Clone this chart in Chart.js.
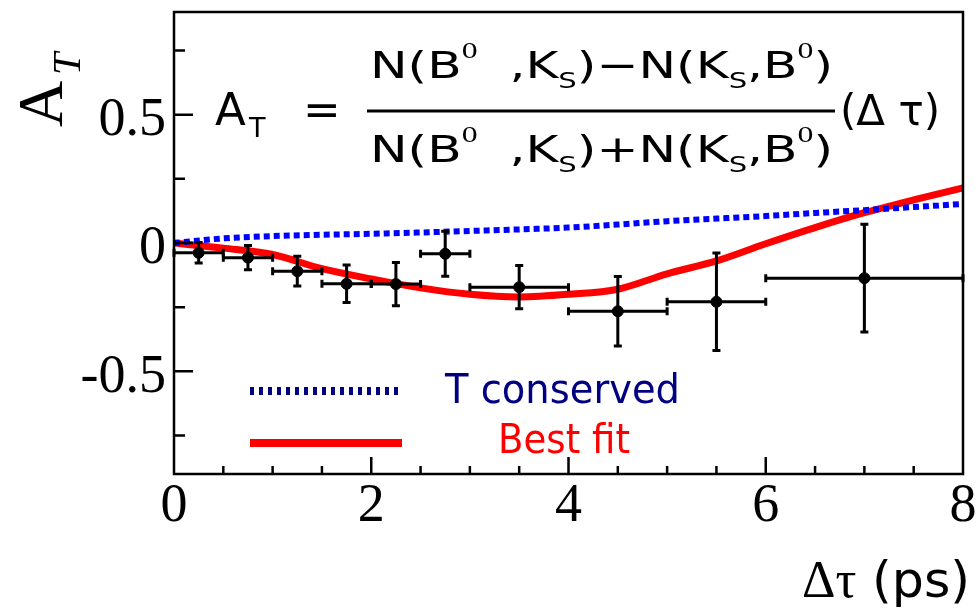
<!DOCTYPE html>
<html>
<head>
<meta charset="utf-8">
<script src="https://cdn.jsdelivr.net/npm/chart.js@4"></script>
<style>html,body{margin:0;padding:0;background:#fff;} canvas{display:block;}</style>
</head>
<body>
<canvas id="atChart" width="979" height="614"></canvas>
<script>
// curves, sampled every 0.5 ps
const fitTimes  = [0, 0.5, 1, 1.5, 2, 2.5, 3, 3.5, 4, 4.5, 5, 5.5, 6, 6.5, 7, 7.5, 8];
const bestFit   = [0, -0.02, -0.045, -0.1, -0.14, -0.175, -0.2, -0.21, -0.2, -0.18, -0.12, -0.07, -0.003, 0.06, 0.118, 0.168, 0.215];
const conserved = [0, 0.018, 0.027, 0.032, 0.036, 0.041, 0.047, 0.053, 0.06, 0.072, 0.085, 0.095, 0.105, 0.117, 0.128, 0.14, 0.152];

// measured asymmetry per bin
const binCenters = [0.25, 0.75, 1.25, 1.75, 2.25, 2.75, 3.5, 4.5, 5.5, 7];
const binLow     = [0, 0.5, 1, 1.5, 2, 2.5, 3, 4, 5, 6];
const binHigh    = [0.5, 1, 1.5, 2, 2.5, 3, 4, 5, 6, 8];
const asym       = [-0.038, -0.057, -0.11, -0.159, -0.16, -0.042, -0.172, -0.266, -0.229, -0.137];
const asymErr    = [0.04, 0.047, 0.058, 0.073, 0.084, 0.088, 0.084, 0.135, 0.19, 0.21];

const xTicks = [0, 2, 4, 6, 8];
const yTicks = [-0.5, 0, 0.5];

const hand = '"DejaVu Sans", sans-serif';
const serif = '"Liberation Serif", serif';

function drawRuns(c, runs, x, y, targetW){
    let w = 0;
    runs.forEach(r=>{ c.font = r.f; w += c.measureText(r.t).width; });
    c.save();
    c.translate(x, y);
    c.scale(targetW / w, 1);
    let cx = 0;
    runs.forEach(r=>{ c.font = r.f; c.fillText(r.t, cx, r.dy || 0); cx += c.measureText(r.t).width; });
    c.restore();
}

function fracRuns(op){
    const m = '38px ' + hand, sup = '24px ' + serif, sub = '22px ' + hand;
    return [
        {t:'N(B', f:m}, {t:'0', f:sup, dy:-20}, {t:'  ,K', f:m}, {t:'S', f:sub, dy:10},
        {t:')' + op + 'N(K', f:m}, {t:'S', f:sub, dy:10}, {t:',B', f:m}, {t:'0', f:sup, dy:-20}, {t:')', f:m}
    ];
}

const framePlugin = {
    id: 'frame',
    afterDatasetsDraw(chart){
        const c = chart.ctx, xs = chart.scales.x, ys = chart.scales.y;
        c.save();
        c.strokeStyle = '#000';
        c.lineWidth = 3;
        binCenters.forEach((bx, i)=>{
            const px = xs.getPixelForValue(bx), py = ys.getPixelForValue(asym[i]);
            const x1 = xs.getPixelForValue(binLow[i]), x2 = xs.getPixelForValue(binHigh[i]);
            const y1 = ys.getPixelForValue(asym[i] + asymErr[i]), y2 = ys.getPixelForValue(asym[i] - asymErr[i]);
            c.beginPath();
            c.moveTo(x1, py); c.lineTo(x2, py);
            c.moveTo(px, y1); c.lineTo(px, y2);
            c.moveTo(x1, py - 4); c.lineTo(x1, py + 4);
            c.moveTo(x2, py - 4); c.lineTo(x2, py + 4);
            c.moveTo(px - 4, y1); c.lineTo(px + 4, y1);
            c.moveTo(px - 4, y2); c.lineTo(px + 4, y2);
            c.stroke();
        });
        c.restore();
    },
    afterDraw(chart){
        const c = chart.ctx, a = chart.chartArea, xs = chart.scales.x, ys = chart.scales.y;
        c.save();
        // frame + inside ticks
        c.strokeStyle = '#000';
        c.lineWidth = 2.5;
        c.strokeRect(a.left, a.top, a.right - a.left, a.bottom - a.top);
        c.beginPath();
        for(let v = -0.75; v <= 0.76; v += 0.25){
            const py = ys.getPixelForValue(v);
            const len = Math.abs(v % 0.5) < 1e-6 ? 19 : 11;
            c.moveTo(a.left, py); c.lineTo(a.left + len, py);
        }
        for(let v = 0.5; v < 8; v += 0.5){
            const px = xs.getPixelForValue(v);
            const len = Math.abs(v % 2) < 1e-6 ? 17 : 8;
            c.moveTo(px, a.bottom); c.lineTo(px, a.bottom - len);
        }
        c.stroke();

        // y title
        c.fillStyle = '#000';
        c.textBaseline = 'alphabetic';
        c.textAlign = 'left';
        c.save();
        c.translate(62, 127);
        c.rotate(-Math.PI / 2);
        c.font = '64px ' + serif;
        c.fillText('A', 0, 0);
        c.font = 'italic 40px ' + serif;
        c.fillText('T', 52, 18);
        c.restore();

        // x title
        c.font = '52px ' + serif;
        c.fillText('\u0394\u03c4', 802, 597);
        drawRuns(c, [{t:'(ps)', f:'50px ' + hand}], 872, 597, 98);

        // formula
        c.font = '45px ' + hand;
        c.fillText('A', 215, 125);
        c.font = '27px ' + hand;
        c.fillText('T', 249, 137);
        c.font = '45px ' + hand;
        c.fillText('=', 303, 125);
        drawRuns(c, fracRuns('\u2212'), 370, 78, 463);
        drawRuns(c, fracRuns('+'), 370, 162, 463);
        c.lineWidth = 3;
        c.beginPath(); c.moveTo(367, 111); c.lineTo(835, 111); c.stroke();
        drawRuns(c, [{t:'(\u0394 \u03c4)', f:'42px ' + hand}], 840, 125, 100);

        // legend
        c.lineWidth = 8;
        c.strokeStyle = '#000080';
        c.setLineDash([4, 5]);
        c.beginPath(); c.moveTo(250, 391); c.lineTo(402, 391); c.stroke();
        c.setLineDash([]);
        c.strokeStyle = '#ff0000';
        c.beginPath(); c.moveTo(250, 443); c.lineTo(402, 443); c.stroke();
        c.fillStyle = '#000080';
        drawRuns(c, [{t:'T conserved', f:'41px ' + hand}], 445, 403, 235);
        c.fillStyle = '#ff0000';
        drawRuns(c, [{t:'Best fit', f:'41px ' + hand}], 498, 453, 132);
        c.restore();
    }
};

const ctx = document.getElementById('atChart').getContext('2d');
new Chart(ctx, {
    type: 'scatter',
    data: {
        datasets: [{
            label: 'Data',
            data: binCenters.map((x, i)=>({x: x, y: asym[i]})),
            pointRadius: 5.5,
            backgroundColor: '#000',
            borderColor: '#000',
            order: 0
        }, {
            type: 'line',
            label: 'T conserved',
            data: fitTimes.map((x, i)=>({x: x, y: conserved[i]})),
            borderColor: '#0000ff',
            borderWidth: 6,
            borderDash: [6, 4],
            pointRadius: 0,
            fill: false,
            cubicInterpolationMode: 'monotone',
            order: 1
        }, {
            type: 'line',
            label: 'Best fit',
            data: fitTimes.map((x, i)=>({x: x, y: bestFit[i]})),
            borderColor: '#ff0000',
            borderWidth: 7,
            pointRadius: 0,
            fill: false,
            cubicInterpolationMode: 'monotone',
            order: 2
        }]
    },
    options: {
        responsive: false,
        animation: false,
        devicePixelRatio: 1,
        layout: { padding: { top: 12, right: 16, left: 0, bottom: 0 } },
        plugins: { legend: { display: false }, tooltip: { enabled: false } },
        scales: {
            x: {
                type: 'linear', min: 0, max: 8,
                grid: { display: false, drawTicks: false },
                border: { display: false },
                afterBuildTicks: s=>{ s.ticks = xTicks.map(v=>({value: v})); },
                afterFit: s=>{ s.height = 140; s.paddingLeft = 0; s.paddingRight = 0; },
                ticks: { font: { family: '"Liberation Serif"', size: 54 }, color: '#000', padding: 0, maxRotation: 0, autoSkip: false, callback: v=>String(v) }
            },
            y: {
                type: 'linear', min: -0.9, max: 0.9,
                grid: { display: false, drawTicks: false },
                border: { display: false },
                afterBuildTicks: s=>{ s.ticks = yTicks.map(v=>({value: v})); },
                afterFit: s=>{ s.width = 174; s.paddingTop = 0; s.paddingBottom = 0; },
                ticks: { font: { family: '"Liberation Serif"', size: 54 }, color: '#000', padding: 8, labelOffset: 6, autoSkip: false, callback: v=>String(v) }
            }
        }
    },
    plugins: [framePlugin]
});
</script>
</body>
</html>
